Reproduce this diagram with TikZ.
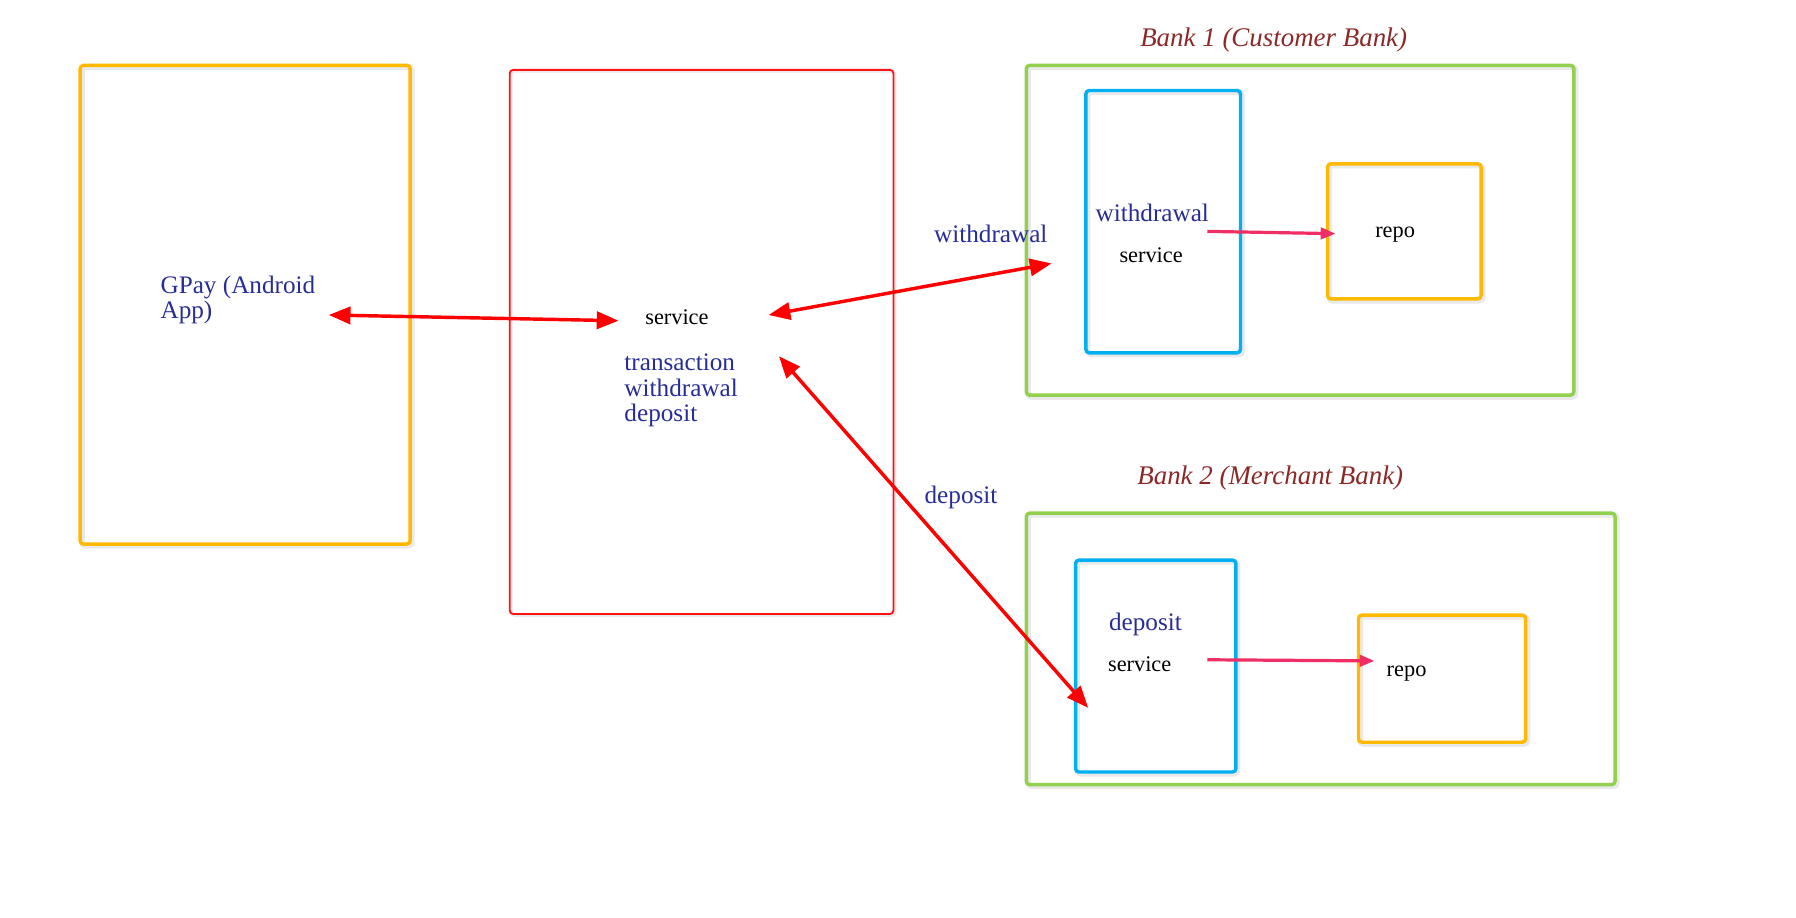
\documentclass[tikz,border=0pt]{standalone}
\usepackage{fontspec}
\setmainfont{Liberation Serif}
\usetikzlibrary{arrows.meta}
\definecolor{boxorange}{RGB}{255,185,0}
\definecolor{boxred}{RGB}{255,20,20}
\definecolor{boxgreen}{RGB}{146,208,80}
\definecolor{boxblue}{RGB}{0,176,240}
\definecolor{txtblue}{RGB}{40,45,150}
\definecolor{txtred}{RGB}{140,40,40}
\definecolor{arrred}{RGB}{255,0,0}
\definecolor{arrpink}{RGB}{240,45,100}
\tikzset{
  frame/.style={rounded corners=3pt},
  shadowline/.style={draw=black!25, opacity=0.35, line width=5pt, rounded corners=3pt},
  bluetxt/.style={text=txtblue, font=\fontsize{22}{22}\selectfont, inner sep=0pt, align=left},
  blacktxt/.style={text=black, font=\fontsize{19.5}{22}\selectfont, inner sep=0pt},
  banktitle/.style={text=txtred, font=\fontsize{23.5}{24}\selectfont\itshape, inner sep=0pt},
  bigarrow/.style={draw=arrred, line width=3pt, {Triangle[length=19pt,width=15pt]}-{Triangle[length=19pt,width=15pt]}},
  smallarrow/.style={draw=arrpink, line width=2.8pt, -{Triangle[length=13pt,width=10pt]}},
}
\begin{document}
\begin{tikzpicture}[x=1pt,y=-1pt]
\useasboundingbox (0,0) rectangle (1568,800.6);
% shadows
\foreach \a/\b/\c/\d in {70/57/358/475, 896/57/1374/345, 948/79/1083/308, 1159/143/1293/261, 896/448/1410/685, 939/489/1079/674, 1186/537/1332/648}
  \draw[shadowline] (\a+1.5,\b+1.5) rectangle (\c+1.5,\d+1.5);
\draw[draw=black!25, opacity=0.35, line width=3pt, rounded corners=3pt] (446,62) rectangle (781,537);
% boxes
\node[frame, draw=boxorange, line width=3pt, minimum width=288pt, minimum height=418pt, inner sep=0pt] (gpay) at (214,266) {};
\node[frame, draw=boxred, line width=1.6pt, minimum width=335pt, minimum height=475pt, inner sep=0pt] (sw) at (612.5,298.5) {};
\node[frame, draw=boxgreen, line width=3pt, minimum width=478pt, minimum height=288pt, inner sep=0pt] (bank1) at (1135,201) {};
\node[frame, draw=boxblue, line width=3pt, minimum width=135pt, minimum height=229pt, inner sep=0pt] (svc1) at (1015.5,193.5) {};
\node[frame, draw=boxorange, line width=3pt, minimum width=134pt, minimum height=118pt, inner sep=0pt] (repo1) at (1226,202) {};
\node[frame, draw=boxgreen, line width=3pt, minimum width=514pt, minimum height=237pt, inner sep=0pt] (bank2) at (1153,566.5) {};
\node[frame, draw=boxblue, line width=3pt, minimum width=140pt, minimum height=185pt, inner sep=0pt] (svc2) at (1009,581.5) {};
\node[frame, draw=boxorange, line width=3pt, minimum width=146pt, minimum height=111pt, inner sep=0pt] (repo2) at (1259,592.5) {};
% titles
\node[banktitle] (t1) at (1112,35) {Bank 1 (Customer Bank)};
\node[banktitle] (t2) at (1109,417) {Bank 2 (Merchant Bank)};
% texts
\node[bluetxt, anchor=north west] (gpaytxt) at (140,241) {GPay (Android\\App)};
\node[blacktxt] (swsvc) at (591,277) {service};
\node[bluetxt, anchor=north west] (swops) at (545,309) {transaction\\withdrawal\\deposit};
\node[bluetxt] (lw) at (865,204) {withdrawal};
\node[bluetxt] (ld) at (839,434) {deposit};
\node[bluetxt] (w1) at (1006,186) {withdrawal};
\node[blacktxt] (s1) at (1005,223) {service};
\node[blacktxt] (r1) at (1218,205) {repo};
\node[bluetxt] (d2) at (1000,545) {deposit};
\node[blacktxt] (s2) at (995,580) {service};
\node[blacktxt] (r2) at (1228,588) {repo};
% arrow ends
\coordinate (a1) at (287,275);
\coordinate (a2) at (540,280);
\coordinate (b1) at (671,275);
\coordinate (b2) at (918,230);
\coordinate (c1) at (680,311);
\coordinate (c2) at (950,618);
\coordinate (p1) at (1054,202);
\coordinate (p2) at (1166,204);
\coordinate (q1) at (1054,576);
\coordinate (q2) at (1200,577);
% arrows
\draw[bigarrow] (a1) -- (a2);
\draw[bigarrow] (b1) -- (b2);
\draw[bigarrow] (c1) -- (c2);
\draw[smallarrow] (p1) -- (p2);
\draw[smallarrow] (q1) -- (q2);
\end{tikzpicture}
\end{document}
